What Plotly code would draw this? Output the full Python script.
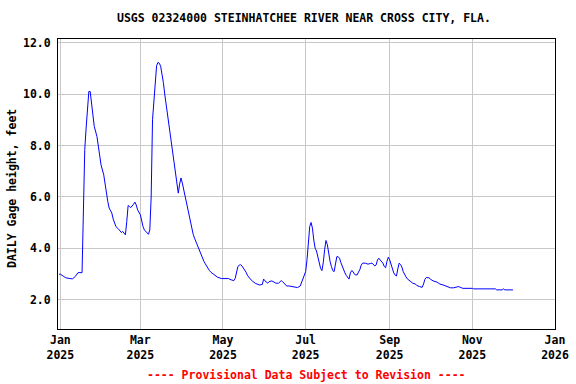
import pandas as pd
import plotly.graph_objects as go

# Day offsets from 2025-01-01 (0 = Jan 1) and daily gage height (ft)
day_of_year = [
    -1, 0, 2, 4, 7, 9, 11, 13, 16, 17, 18, 19, 20, 21, 22, 23, 24, 25, 27, 28, 29, 30,
    32, 33, 34, 35, 36, 38, 39, 40, 41, 43, 44, 45, 46, 47, 48, 49, 50, 51, 52, 54, 55,
    56, 57, 59, 60, 61, 62, 63, 64, 65, 66, 67, 68, 69, 70, 71, 72, 73, 74, 75, 76, 77,
    78, 79, 80, 81, 82, 83, 84, 85, 86, 87, 88, 89, 90, 91, 92, 93, 94, 95, 96, 97, 98,
    99, 100, 101, 102, 103, 104, 105, 106, 107, 108, 109, 110, 111, 112, 114, 116, 119,
    121, 124, 126, 128, 129, 130, 131, 132, 133, 134, 135, 136, 137, 138, 139, 140, 142,
    144, 147, 148, 149, 150, 151, 153, 154, 156, 157, 159, 161, 163, 164, 166, 167, 169,
    171, 173, 175, 177, 178, 180, 181, 182, 183, 184, 185, 186, 187, 188, 189, 190, 191,
    192, 193, 194, 195, 196, 197, 198, 199, 200, 201, 202, 203, 204, 205, 206, 207, 208,
    209, 210, 211, 212, 213, 214, 215, 216, 217, 218, 219, 220, 221, 222, 223, 225, 227,
    229, 230, 232, 233, 234, 235, 236, 237, 238, 239, 240, 241, 242, 243, 244, 245, 246,
    247, 248, 249, 250, 251, 252, 253, 254, 255, 256, 258, 260, 262, 263, 265, 267, 268,
    269, 270, 272, 273, 275, 278, 280, 283, 285, 288, 290, 292, 294, 295, 297, 304, 305,
    321, 322, 326, 327, 328, 334,
]
gage_height_ft = [
    3.00, 3.00, 2.93, 2.86, 2.83, 2.82, 2.91, 3.06, 3.06, 5.24, 7.84, 8.68, 9.46, 10.10,
    10.10, 9.65, 9.13, 8.74, 8.35, 8.03, 7.64, 7.25,
    6.86, 6.47, 6.15, 5.82, 5.57, 5.37, 5.14, 4.98, 4.85, 4.75, 4.70, 4.62, 4.66, 4.60,
    4.53, 5.05, 5.67, 5.63, 5.59, 5.72, 5.80,
    5.69, 5.50, 5.31, 5.05, 4.85, 4.72, 4.66, 4.60, 4.55, 4.72, 6.00, 9.00, 9.78, 10.60,
    11.10, 11.23, 11.20, 11.08, 10.82, 10.45, 10.00,
    9.60, 9.30, 8.87, 8.45, 8.00, 7.70, 7.30, 6.99, 6.60, 6.15, 6.50, 6.74, 6.54, 6.30,
    6.00, 5.70, 5.45, 5.24, 5.00, 4.75, 4.55,
    4.40, 4.27, 4.10, 3.98, 3.85, 3.72, 3.58, 3.49, 3.40, 3.30, 3.22, 3.14, 3.08, 3.04,
    2.97, 2.88, 2.83,
    2.83, 2.83, 2.78, 2.75, 2.84, 3.10, 3.30, 3.35, 3.37, 3.32, 3.25, 3.17, 3.08, 2.96,
    2.88, 2.82, 2.72,
    2.64, 2.58, 2.58, 2.60, 2.81, 2.74, 2.65, 2.71, 2.74, 2.71, 2.65, 2.65, 2.75, 2.71,
    2.62, 2.54, 2.54,
    2.52, 2.48, 2.48, 2.54, 2.67, 2.91, 3.10, 3.56, 4.33, 4.85, 5.01, 4.79, 4.33, 4.01,
    3.90, 3.65, 3.45,
    3.23, 3.14, 3.45, 3.95, 4.31, 4.15, 3.80, 3.50, 3.30, 3.14, 3.10, 3.40, 3.68, 3.68,
    3.62, 3.45, 3.30,
    3.17, 3.05, 2.95, 2.86, 2.81, 3.05, 3.14, 3.10, 3.00, 2.97, 2.97, 3.08, 3.18, 3.35,
    3.43, 3.43, 3.39,
    3.42, 3.43, 3.32, 3.36, 3.55, 3.62, 3.55, 3.49, 3.43, 3.30, 3.25, 3.50, 3.66, 3.56,
    3.38, 3.20, 3.05,
    2.97, 2.93, 3.20, 3.43, 3.38, 3.28, 3.10, 2.98, 2.90, 2.82, 2.74, 2.65, 2.62, 2.56,
    2.52, 2.49, 2.62,
    2.80, 2.87, 2.86, 2.81, 2.74, 2.69, 2.62, 2.57, 2.52, 2.47, 2.47, 2.49, 2.52, 2.49,
    2.45, 2.45, 2.43,
    2.43, 2.39, 2.39, 2.43, 2.39, 2.39,
]

y_ticks = [2.0, 4.0, 6.0, 8.0, 10.0, 12.0]
title_text = "USGS 02324000 STEINHATCHEE RIVER NEAR CROSS CITY, FLA."
y_label = "DAILY Gage height, feet"
footer_text = "---- Provisional Data Subject to Revision ----"

dates = pd.Timestamp("2025-01-01") + pd.to_timedelta(day_of_year, unit="D")

FONT = "DejaVu Sans Mono"
W, H = 576, 384
L, R, T, B = 58, 21, 39, 55
pw = W - L - R
ph = H - T - B

fig = go.Figure()
fig.add_trace(go.Scatter(
    x=dates, y=gage_height_ft, mode="lines",
    line=dict(color="#0000ff", width=1),
    hoverinfo="skip", showlegend=False,
))

fig.update_layout(
    width=W, height=H,
    margin=dict(l=L, r=R, t=T, b=B, pad=0, autoexpand=False),
    paper_bgcolor="white", plot_bgcolor="white",
    font=dict(family=FONT, size=11, color="black"),
    xaxis=dict(
        type="date", automargin=False,
        range=["2024-12-30T06:00:00", "2026-01-01T00:00:00"],
        tick0="2025-01-01", dtick="M2", tickformat="%b<br>%Y",
        showgrid=True, gridcolor="#c8c8c8", gridwidth=1,
        showline=True, linecolor="black", linewidth=1, mirror=True,
        ticks="", zeroline=False,
        tickfont=dict(family=FONT, size=11.5, color="black", weight="bold"),
    ),
    yaxis=dict(
        range=[0.87, 12.14], automargin=False,
        tickvals=y_ticks, tickformat=".1f",
        showgrid=True, gridcolor="#c8c8c8", gridwidth=1,
        showline=True, linecolor="black", linewidth=1, mirror=True,
        ticks="", zeroline=False, ticklabelstandoff=4,
        tickfont=dict(family=FONT, size=11.5, color="black", weight="bold"),
    ),
    annotations=[
        dict(text=title_text, xref="paper", yref="paper",
             x=(303.5 - L) / pw, y=(H - B - 18) / ph, xanchor="center", yanchor="middle",
             showarrow=False,
             font=dict(family=FONT, size=11.5, color="black", weight="bold")),
        dict(text=y_label, xref="paper", yref="paper",
             x=(12 - L) / pw, y=(H - B - 189) / ph, xanchor="center", yanchor="middle",
             textangle=-90, showarrow=False,
             font=dict(family=FONT, size=11.5, color="black", weight="bold")),
        dict(text=footer_text, xref="paper", yref="paper",
             x=(306.5 - L) / pw, y=(H - B - 375) / ph, xanchor="center", yanchor="middle",
             showarrow=False,
             font=dict(family=FONT, size=11.5, color="#ff0000", weight="bold")),
    ],
)

fig.write_html(
    "out.html",
    config={"displayModeBar": False, "staticPlot": True},
    post_script="document.body.style.margin='0';document.body.style.overflow='hidden';",
)
